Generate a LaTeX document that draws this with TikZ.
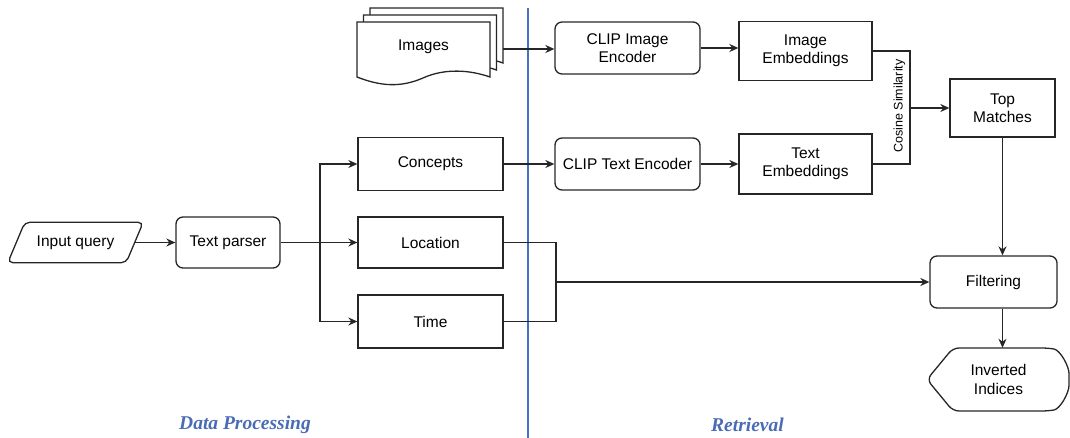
\documentclass[tikz,border=0pt]{standalone}
\usepackage{fontspec}
\setmainfont{Liberation Sans}
\newfontfamily\timesf{Liberation Serif}
\usetikzlibrary{arrows.meta,calc}
\definecolor{lblue}{HTML}{4472C4}
\definecolor{tblue}{HTML}{4A6BB5}
\tikzset{
  base/.style={draw=black!85, line width=1.3pt, align=center, font=\fontsize{15.5}{18.5}\selectfont, inner sep=2pt},
  sqbox/.style={base, rectangle},
  rbox/.style={base, rectangle, rounded corners=7pt},
  txt/.style={align=center, font=\fontsize{15.5}{18.5}\selectfont, inner sep=0pt},
  arr/.style={draw=black!85, line width=1.4pt, -{Stealth[length=9pt,width=8pt]}},
  ln/.style={draw=black!85, line width=1.4pt},
  sheet/.style={draw=black!85, line width=1.3pt, fill=white},
  sect/.style={text=tblue, font=\timesf\bfseries\itshape\fontsize{19.5}{21}\selectfont}
}
\begin{document}
\begin{tikzpicture}[x=1pt,y=-1pt]
\useasboundingbox (0,0) rectangle (1070,438);

% section divider
\draw[lblue, line width=2.6pt] (528,8) -- (528,438);

% Images (stack of documents)
\foreach \k in {2,1,0}{
  \draw[sheet, xshift=6.5*\k pt, yshift=7*\k pt]
    (357,22) -- (490,22) -- (490,77)
    .. controls (470,70) and (445,68) .. (423,78)
    .. controls (400,88) and (380,86) .. (357,77) -- cycle;
}
\node[txt] (img) at (423.5,47) {Images};
\coordinate (imgout) at (503,49);

% Left column
\node[txt, minimum width=118pt, minimum height=40pt] (iq) at (75.5,242.5) {Input query};
\draw[ln, line width=1.3pt, rounded corners=5pt]
  ($(iq.south west)+(-8.5,0)$) -- ($(iq.north west)+(8.5,0)$) --
  ($(iq.north east)+(8.5,0)$) -- ($(iq.south east)+(-8.5,0)$) -- cycle;
\node[rbox, minimum width=104pt, minimum height=51pt] (tp) at (228,242.5) {Text parser};

\node[sqbox, minimum width=145pt, minimum height=53pt] (con) at (430.5,164) {Concepts};
\node[sqbox, minimum width=145pt, minimum height=51pt] (loc) at (430.5,242.5) {Location};
\node[sqbox, minimum width=145pt, minimum height=53pt] (tim) at (430.5,321.5) {Time};

% Retrieval side
\node[rbox, minimum width=145pt, minimum height=52pt] (cie) at (627.5,48) {CLIP Image\\Encoder};
\node[rbox, minimum width=145pt, minimum height=52pt] (cte) at (627.5,164) {CLIP Text Encoder};
\node[sqbox, minimum width=133pt, minimum height=59pt] (ie) at (805.5,51) {Image\\Embeddings};
\node[sqbox, minimum width=133pt, minimum height=60pt] (te) at (805.5,164) {Text\\Embeddings};
\node[sqbox, minimum width=105pt, minimum height=58pt] (tm) at (1002.5,108) {Top\\Matches};
\node[rbox, minimum width=127pt, minimum height=52pt] (fil) at (993.5,282) {Filtering};

\node[txt, minimum width=143pt, minimum height=63pt] (inv) at (998.5,379.5) {Inverted\\Indices};
\draw[ln, line width=1.3pt, rounded corners=6pt] (953,348) -- (1048,348)
  .. controls (1060,350) and (1069,366) .. (1069,379.5)
  .. controls (1069,393) and (1060,409) .. (1048,411)
  -- (953,411) -- (927,379.5) -- cycle;

% connectors
\draw[arr] (iq.east) -- (tp.west);
\coordinate (br) at (320,242.5);
\draw[arr] (tp.east) -- (loc.west);
\draw[arr] (br) |- (con.west);
\draw[arr] (br) |- (tim.west);

\draw[arr] (imgout) -- (cie.west |- imgout);
\draw[arr] (con.east) -- (cte.west);
\draw[arr] (cie.east) -- (ie.west |- cie.east);
\draw[arr] (cte.east) -- (te.west);

\coordinate (cs) at (910,108);
\draw[ln] (ie.east) -| (cs) |- (te.east);
\draw[arr] (cs) -- (tm.west);
\node[rotate=90, font=\fontsize{12.5}{14}\selectfont, inner sep=0pt] (cosl) at (899.5,106) {Cosine Similarity};

\coordinate (lt) at (556,282);
\draw[ln] (loc.east) -| (lt) |- (tim.east);
\draw[arr] (lt) -- (fil.west);

\draw[arr] (tm.south) -- (tm.south |- fil.north);
\draw[arr] (fil.south -| tm.south) -- (inv.north -| tm.south);

% section labels
\node[sect] (dp) at (245,425) {Data Processing};
\node[sect] (rt) at (747.5,425) {Retrieval};
\end{tikzpicture}
\end{document}
